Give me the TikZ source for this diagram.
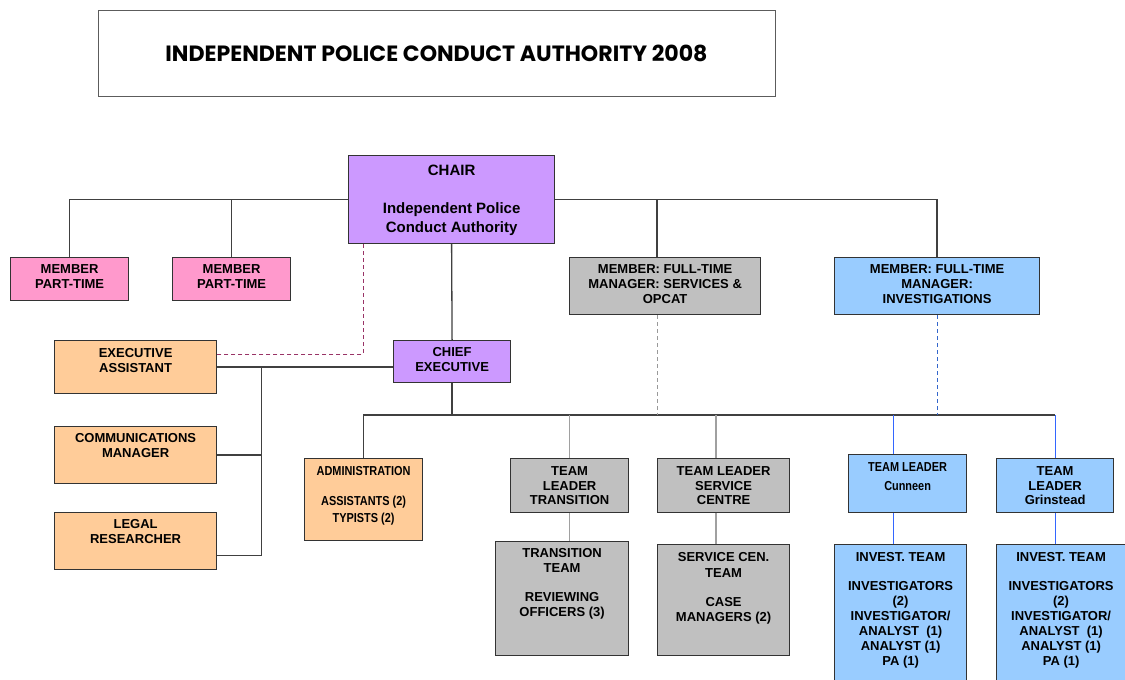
\documentclass[tikz,border=0pt]{standalone}
\usepackage{fontspec}
\setmainfont{Liberation Sans}
\newfontfamily\condf[FakeStretch=0.84]{Liberation Sans}
\newfontfamily\titlef{Poppins}
\usepackage{graphicx}
\definecolor{pinkc}{HTML}{FF99CC}
\definecolor{purpc}{HTML}{CC99FF}
\definecolor{orngc}{HTML}{FFCC99}
\definecolor{greyc}{HTML}{C0C0C0}
\definecolor{bluec}{HTML}{99CCFF}
\definecolor{bordc}{HTML}{333333}
\definecolor{linec}{HTML}{404040}
\definecolor{glinec}{HTML}{A0A0A0}
\definecolor{blinec}{HTML}{3366FF}
\definecolor{dpurp}{HTML}{993366}
\definecolor{dgrey}{HTML}{999999}
\definecolor{dblue}{HTML}{3366CC}
% name, x1, y1, x2, y2, style, top pad, text
\newcommand\obox[8]{\node[#6,anchor=north west,inner sep=0pt] (#1) at (#2,#3)
  {\parbox[t][\dimexpr #5pt-#3pt\relax][t]{\dimexpr #4pt-#2pt\relax}{\centering\vspace*{#7pt}#8\par}};}
\begin{document}
\begin{tikzpicture}[x=1pt,y=-1pt,
  every node/.style={font=\fontsize{13}{15}\selectfont\bfseries},
  boxbase/.style={draw=bordc,line width=1.2pt},
  pinkbox/.style={boxbase,fill=pinkc},
  purpbox/.style={boxbase,fill=purpc},
  orngbox/.style={boxbase,fill=orngc},
  greybox/.style={boxbase,fill=greyc},
  bluebox/.style={boxbase,fill=bluec},
  conn/.style={draw=linec,line width=1.3pt},
  gconn/.style={draw=glinec,line width=1.3pt},
  bconn/.style={draw=blinec,line width=1pt},
  dpconn/.style={draw=dpurp,line width=1pt,dash pattern=on 4pt off 3pt},
  dgconn/.style={draw=dgrey,line width=1pt,dash pattern=on 4pt off 3pt},
  dbconn/.style={draw=dblue,line width=1pt,dash pattern=on 4pt off 3pt}]
\useasboundingbox[fill=white] (0,0) rectangle (1125,680);

\node[draw=bordc!80,line width=1pt,minimum width=677pt,minimum height=86pt,inner sep=0pt,
  font=\titlef\bfseries] (title) at (436.5,53)
  {\resizebox{542pt}{!}{INDEPENDENT POLICE CONDUCT AUTHORITY 2008}};

\coordinate (hy) at (0,415);
\coordinate (xsc) at (716,0);
\coordinate (xcu) at (893,0);
\coordinate (xms) at (657,0);

\obox{chair}{348}{155}{554}{243}{purpbox}{9.6}{\fontsize{15}{19}\selectfont CHAIR\\[19pt]Independent Police\\Conduct Authority}
\obox{m1}{10}{257}{128}{300}{pinkbox}{7.3}{MEMBER\\PART-TIME}
\obox{m2}{172}{257}{290}{300}{pinkbox}{7.3}{MEMBER\\PART-TIME}
\obox{mfs}{569}{257}{760}{314}{greybox}{7.3}{MEMBER: FULL-TIME\\MANAGER: SERVICES \&\\OPCAT}
\obox{mfi}{834}{257}{1039}{314}{bluebox}{7.3}{MEMBER: FULL-TIME\\MANAGER:\\INVESTIGATIONS}
\obox{chief}{393}{340}{510}{382}{purpbox}{7.3}{CHIEF\\EXECUTIVE}
\obox{ea}{54}{340}{216}{393}{orngbox}{8.3}{EXECUTIVE\\ASSISTANT}
\obox{cm}{54}{426}{216}{483}{orngbox}{7.3}{COMMUNICATIONS\\MANAGER}
\obox{lr}{54}{512}{216}{569}{orngbox}{7.3}{LEGAL\\RESEARCHER}
\obox{adm}{304}{458}{422}{540}{orngbox}{8.3}{\condf\fontsize{13}{17}\selectfont ADMINISTRATION\\[13pt]ASSISTANTS (2)\\TYPISTS (2)}
\obox{tlt}{510}{458}{628}{512}{greybox}{8.3}{\fontsize{13}{14.5}\selectfont TEAM\\LEADER\\TRANSITION}
\obox{tls}{657}{458}{789}{512}{greybox}{8.3}{\fontsize{13}{14.5}\selectfont TEAM LEADER\\SERVICE\\CENTRE}
\obox{cun}{848}{454}{966}{512}{bluebox}{8.3}{\condf TEAM LEADER\\[4pt]Cunneen}
\obox{gr}{996}{458}{1113}{512}{bluebox}{8.3}{\fontsize{13}{14.5}\selectfont TEAM\\LEADER\\Grinstead}
\obox{tt}{495}{541}{628}{655}{greybox}{7.3}{\fontsize{13}{14.5}\selectfont TRANSITION\\TEAM\\[15pt]REVIEWING\\OFFICERS (3)}
\obox{sct}{657}{544}{789}{655}{greybox}{8.3}{\fontsize{13}{15.5}\selectfont SERVICE CEN.\\TEAM\\[13.5pt]CASE\\MANAGERS (2)}
\obox{inv1}{834}{544}{966}{700}{bluebox}{8.3}{\fontsize{13}{15}\selectfont INVEST. TEAM\\[14pt]INVESTIGATORS\\(2)\\INVESTIGATOR/\\ANALYST~~(1)\\ANALYST (1)\\PA (1)}
\obox{inv2}{996}{544}{1135}{700}{bluebox}{8.3}{\hspace*{-10pt}\parbox{128pt}{\centering\fontsize{13}{15}\selectfont INVEST. TEAM\\[14pt]INVESTIGATORS\\(2)\\INVESTIGATOR/\\ANALYST~~(1)\\ANALYST (1)\\PA (1)}}

% top level
\draw[conn] (m1.north) |- (chair.west);
\draw[conn] (m2.north) -- (m2.north |- chair.west);
\draw[conn] (chair.east) -| (mfi.north);
\draw[conn] (xms |- mfs.north) -- (xms |- chair.east);
\draw[conn] (chair.south) -- (chief.north);
\draw[dpconn] ([xshift=15pt]chair.south west) |- ([yshift=12.5pt]ea.east);
% staff bus
\coordinate (bus) at ([xshift=44pt]ea.east);
\draw[conn] (ea.east) -- (ea.east -| chief.west);
\draw[conn] (bus) |- ([yshift=-14.5pt]lr.east);
\draw[conn] (cm.east) -- (cm.east -| bus);
% lower bus
\draw[conn] (chief.south) -- (chief.south |- hy);
\draw[conn] (adm.north) -- (adm.north |- hy) -- (gr.north |- hy);
\draw[dgconn] (xms |- mfs.south) -- (xms |- hy);
\draw[dbconn] (mfi.south) -- (mfi.south |- hy);
\draw[gconn] (tlt.north) -- (tlt.north |- hy);
\draw[gconn] (xsc |- tls.north) -- (xsc |- hy);
\draw[bconn] (xcu |- cun.north) -- (xcu |- hy);
\draw[bconn] (gr.north) -- (gr.north |- hy);
\draw[gconn] (tlt.south) -- (tlt.south |- tt.north);
\draw[gconn] (xsc |- tls.south) -- (xsc |- sct.north);
\draw[bconn] (xcu |- cun.south) -- (xcu |- inv1.north);
\draw[bconn] (gr.south) -- (gr.south |- inv2.north);
\end{tikzpicture}
\end{document}
